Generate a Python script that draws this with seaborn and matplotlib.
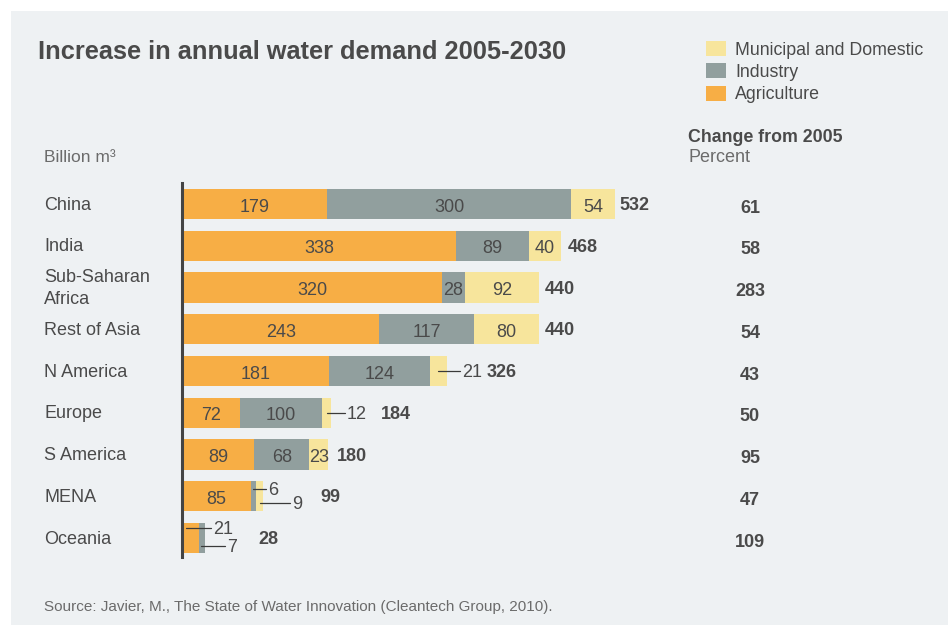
import matplotlib
matplotlib.use("Agg")
import matplotlib.pyplot as plt
import seaborn as sns
import pandas as pd
from matplotlib.patches import Rectangle, Patch

# data
regions = ["China", "India", "Sub-Saharan\nAfrica", "Rest of Asia", "N America",
           "Europe", "S America", "MENA", "Oceania"]
agriculture = [179, 338, 320, 243, 181, 72, 89, 85, 21]
industry = [300, 89, 28, 117, 124, 100, 68, 6, 7]
municipal = [54, 40, 92, 80, 21, 12, 23, 9, 0]
totals = [532, 468, 440, 440, 326, 184, 180, 99, 28]
change_pct = [61, 58, 283, 54, 43, 50, 95, 47, 109]

C_AGR = "#f7ae45"
C_IND = "#919f9e"
C_MUN = "#f7e59c"
TXT = "#4a4a4a"
GRAY = "#6b6b6b"
BG = "#eef1f3"

sns.set_theme(style="white")
plt.rcParams["font.family"] = ["Liberation Sans", "DejaVu Sans"]

df = pd.DataFrame({"region": regions, "agr": agriculture, "ind": industry, "mun": municipal})
df["c_ind"] = df["agr"] + df["ind"]
df["c_all"] = df["c_ind"] + df["mun"]

W, H = 948, 625
fig = plt.figure(figsize=(W / 100, H / 100), dpi=100, facecolor="white")
fig.patches.append(Rectangle((11 / W, 0), 1, 1 - 11 / H, transform=fig.transFigure,
                             facecolor=BG, edgecolor="none", zorder=-5))

# axes: x 182..914 px, y 183..557 px
ax = fig.add_axes([182 / W, 1 - 557 / H, 732 / W, 374 / H])
ax.set_facecolor("none")
ppu = 0.812  # pixels per unit

bw = 0.72
sns.barplot(data=df, y="region", x="c_all", color=C_MUN, width=bw, saturation=1,
            orient="h", ax=ax, linewidth=0)
sns.barplot(data=df, y="region", x="c_ind", color=C_IND, width=bw, saturation=1,
            orient="h", ax=ax, linewidth=0)
sns.barplot(data=df, y="region", x="agr", color=C_AGR, width=bw, saturation=1,
            orient="h", ax=ax, linewidth=0)
ax.set_ylim(8.455, -0.503)
ax.set_xlim(0, 732 / ppu)

for s in ["top", "right", "bottom"]:
    ax.spines[s].set_visible(False)
ax.spines["left"].set_color("#444444")
ax.spines["left"].set_linewidth(2.2)
ax.set_xticks([])
ax.set_yticks([])
ax.set_xlabel("")
ax.set_ylabel("")

fs = 13
px = 1 / 41.75  # one pixel in y units

# inside labels (only where segment is wide enough)
for i in range(len(regions)):
    a, b, c = agriculture[i], industry[i], municipal[i]
    segs = [(0, a), (a, a + b), (a + b, a + b + c)]
    for (s0, s1) in segs:
        if s1 - s0 >= 22:
            ax.text((s0 + s1) / 2, i + 3 * px, str(s1 - s0), ha="center", va="center",
                    fontsize=fs, color=TXT)

# leader-line labels: (row, value, line y offset px, start x, end x)
leaders = [
    (4, 21, 0, 315.5, 342),
    (5, 12, 0, 178, 200.5),
    (7, 6, -7, 88, 103),
    (7, 9, 7, 95.5, 133),
    (8, 21, -10, 5, 35.5),
    (8, 7, 8, 23.5, 53),
]
for row, val, dy, x0, x1 in leaders:
    y = row + dy * px
    ax.plot([x0, x1], [y, y], color="#3a3a3a", lw=0.9)
    ax.text(x1 + 2.5, y + 1.5 * px, str(val), ha="left", va="center", fontsize=fs, color=TXT)

# totals
total_x = [539, 475, 447, 447, 375.5, 245, 190.5, 171, 93.5]
for i, t in enumerate(totals):
    ax.text(total_x[i], i + 1.5 * px, str(t), ha="left", va="center", fontsize=fs,
            fontweight="bold", color=TXT)

# change percent column
for i, p in enumerate(change_pct):
    ax.text((750 - 182) / ppu, i + 4 * px, str(p), ha="center", va="center", fontsize=fs,
            fontweight="bold", color=TXT)

# region labels
for i, r in enumerate(regions):
    ax.text(-138 / ppu, i + 1 * px, r, ha="left", va="center", fontsize=fs, color=TXT,
            linespacing=1.35)

# texts in figure coords
def ft(x, y, s, **kw):
    fig.text(x / W, 1 - y / H, s, **kw)

ft(38, 52, "Increase in annual water demand 2005-2030", fontsize=18.3, fontweight="bold",
   color=TXT, va="center")
ft(44, 158, "Billion m³", fontsize=12.5, color=GRAY, va="center")
ft(688, 137, "Change from 2005", fontsize=12.8, fontweight="bold", color=TXT, va="center")
ft(688, 158, "Percent", fontsize=13, color=GRAY, va="center")
ft(44, 607, "Source: Javier, M., The State of Water Innovation (Cleantech Group, 2010).",
   fontsize=11, color=GRAY, va="center")

handles = [Patch(facecolor=C_MUN, edgecolor="none", label="Municipal and Domestic"),
           Patch(facecolor=C_IND, edgecolor="none", label="Industry"),
           Patch(facecolor=C_AGR, edgecolor="none", label="Agriculture")]
leg = fig.legend(handles=handles, loc="upper left", bbox_to_anchor=(706 / W, 1 - 41 / H),
                 frameon=False, fontsize=12.8, handlelength=1.1, handleheight=0.9,
                 handletextpad=0.55, labelspacing=0.28, borderaxespad=0, borderpad=0)
for t in leg.get_texts():
    t.set_color(TXT)

fig.savefig("out.png", dpi=100, facecolor="white")
